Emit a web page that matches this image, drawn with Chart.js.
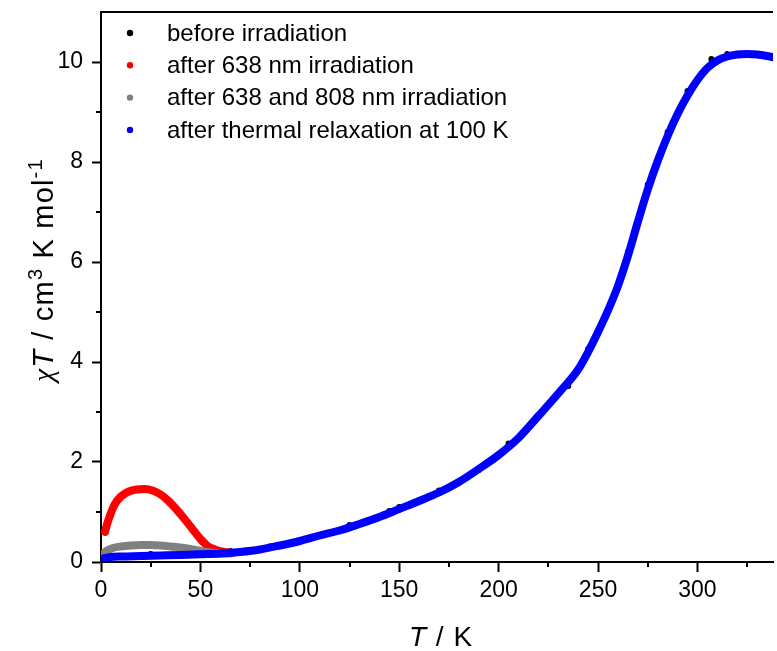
<!DOCTYPE html>
<html>
<head>
<meta charset="utf-8">
<script src="https://cdn.jsdelivr.net/npm/chart.js@4"></script>
<style>
  html, body { margin: 0; padding: 0; background: #ffffff; }
  canvas { display: block; }
</style>
</head>
<body>
<canvas id="myChart" width="777" height="651"></canvas>
<script>

// series names and colours, in legend order
const seriesLabels = [
    'before irradiation',
    'after 638 nm irradiation',
    'after 638 and 808 nm irradiation',
    'after thermal relaxation at 100 K'
];
const seriesColors = ['rgb(0, 0, 0)', 'rgb(255, 0, 0)', 'rgb(128, 128, 128)', 'rgb(0, 0, 255)'];

// before irradiation (sparse black points, mostly hidden under the blue curve)
const tempBefore = [5, 25, 45, 65, 85, 105, 125, 145, 150, 170, 190, 205, 225, 235, 245, 255, 265, 275, 285, 295, 307, 315, 325, 335];
const chiTBefore = [0.13, 0.16, 0.18, 0.22, 0.31, 0.46, 0.74, 1.02, 1.1, 1.43, 1.84, 2.37, 3.14, 3.52, 4.26, 5.05, 6.2, 7.55, 8.6, 9.42, 10.06, 10.16, 10.17, 10.11];

// after 638 nm irradiation
const tempRed = [2, 3, 5, 7, 10, 14, 18, 22, 26, 30, 34, 38, 42, 44, 46, 50, 52, 54, 58, 62, 66];
const chiTRed = [0.6, 0.75, 0.98, 1.16, 1.31, 1.41, 1.45, 1.46, 1.43, 1.35, 1.22, 1.05, 0.86, 0.76, 0.66, 0.46, 0.38, 0.31, 0.24, 0.2, 0.18];

// after 638 and 808 nm irradiation
const tempGray = [1, 3, 6, 10, 15, 20, 25, 30, 35, 40, 45, 50, 55, 60, 65];
const chiTGray = [0.16, 0.23, 0.28, 0.31, 0.33, 0.34, 0.34, 0.33, 0.31, 0.29, 0.26, 0.22, 0.19, 0.17, 0.17];

// after thermal relaxation at 100 K
const tempBlue = [1.8, 5, 10, 20, 30, 40, 50, 60, 70, 80, 90, 100, 110, 120, 130, 140, 150, 160, 170, 180, 190, 200, 210, 220, 230, 240, 245, 250, 255, 260, 265, 270, 275, 280, 285, 290, 295, 300, 305, 310, 315, 320, 325, 330, 335, 340];
const chiTBlue = [0.08, 0.1, 0.11, 0.12, 0.13, 0.14, 0.155, 0.17, 0.2, 0.25, 0.33, 0.42, 0.53, 0.63, 0.76, 0.9, 1.06, 1.22, 1.39, 1.6, 1.86, 2.14, 2.48, 2.92, 3.37, 3.85, 4.2, 4.6, 5.03, 5.52, 6.12, 6.8, 7.45, 8.02, 8.52, 8.96, 9.33, 9.64, 9.88, 10.03, 10.11, 10.15, 10.16, 10.15, 10.12, 10.08];

// axis ticks
const xTicks = [0, 50, 100, 150, 200, 250, 300];
const xMinorTicks = [25, 75, 125, 175, 225, 275, 325];
const yTicks = [0, 2, 4, 6, 8, 10];
const yMinorTicks = [1, 3, 5, 7, 9];

const fontFamily = '"Liberation Sans", Arial, sans-serif';

function points(xs, ys) {
    return xs.map((x, i) => ({x: x, y: ys[i]}));
}

function lineSet(idx, xs, ys, order) {
    return {
        label: seriesLabels[idx],
        data: points(xs, ys),
        borderColor: seriesColors[idx],
        backgroundColor: seriesColors[idx],
        borderWidth: 8,
        borderCapStyle: 'round',
        borderJoinStyle: 'round',
        pointRadius: 0,
        cubicInterpolationMode: 'monotone',
        order: order
    }
}

// draws several text pieces with different fonts on one baseline, centred on x
function drawRich(ctx, parts, x, y) {
    let total = 0;
    parts.forEach(p => {
        ctx.font = p.font;
        total += ctx.measureText(p.text).width;
    });
    let cx = x - total / 2;
    parts.forEach(p => {
        ctx.font = p.font;
        ctx.fillText(p.text, cx, y - (p.rise || 0));
        cx += ctx.measureText(p.text).width;
    });
}

const decor = {
    id: 'decor',
    afterDraw(chart) {
        const {ctx, chartArea, scales} = chart;
        ctx.save();
        ctx.strokeStyle = '#000';
        ctx.fillStyle = '#000';
        ctx.lineWidth = 2;

        // top frame line
        ctx.beginPath();
        ctx.moveTo(chartArea.left - 1, chartArea.top);
        ctx.lineTo(chartArea.right, chartArea.top);
        ctx.stroke();

        // minor ticks
        ctx.beginPath();
        xMinorTicks.forEach(v => {
            const px = Math.round(scales.x.getPixelForValue(v));
            ctx.moveTo(px, chartArea.bottom);
            ctx.lineTo(px, chartArea.bottom + 5);
        });
        yMinorTicks.forEach(v => {
            const py = Math.round(scales.y.getPixelForValue(v));
            ctx.moveTo(chartArea.left, py);
            ctx.lineTo(chartArea.left - 5, py);
        });
        ctx.stroke();

        // legend inside the plot, top left
        ctx.textBaseline = 'middle';
        ctx.textAlign = 'left';
        chart.data.datasets.forEach((ds, i) => {
            const y = chartArea.top + 21 + i * 32.3;
            ctx.fillStyle = ds.backgroundColor;
            ctx.beginPath();
            ctx.arc(chartArea.left + 29, y, 3.2, 0, Math.PI * 2);
            ctx.fill();
            ctx.fillStyle = '#000';
            ctx.font = '24px ' + fontFamily;
            ctx.fillText(ds.label, chartArea.left + 66, y + 1);
        });

        // axis titles
        ctx.textBaseline = 'alphabetic';
        const big = '28px ' + fontFamily;
        const ital = 'italic 28px ' + fontFamily;
        const small = '20px ' + fontFamily;
        ctx.letterSpacing = '1px';
        drawRich(ctx, [
            {text: 'T', font: ital},
            {text: ' / K', font: big}
        ], (chartArea.left + chartArea.right) / 2 + 4, 646);

        const bigY = '29px ' + fontFamily;
        const italY = 'italic 29px ' + fontFamily;
        ctx.letterSpacing = '1.2px';
        ctx.translate(53, (chartArea.top + chartArea.bottom) / 2 - 17);
        ctx.rotate(-Math.PI / 2);
        drawRich(ctx, [
            {text: '\u03C7', font: 'italic 29px "Liberation Serif", serif'},
            {text: 'T', font: italY},
            {text: ' / cm', font: bigY},
            {text: '3', font: small, rise: 11},
            {text: ' K mol', font: bigY},
            {text: '-1', font: small, rise: 11}
        ], 0, 0);
        ctx.restore();
    }
};

function createChart() {
    const ctx = document.getElementById('myChart');

    const data = {
        datasets: [
            {
                label: seriesLabels[0],
                data: points(tempBefore, chiTBefore),
                showLine: false,
                pointRadius: 3,
                pointBorderWidth: 0,
                pointBackgroundColor: seriesColors[0],
                borderColor: seriesColors[0],
                backgroundColor: seriesColors[0],
                order: 3
            },
            lineSet(1, tempRed, chiTRed, 2),
            lineSet(2, tempGray, chiTGray, 1),
            lineSet(3, tempBlue, chiTBlue, 0)
        ]
    };

    const tickFont = {family: fontFamily, size: 23};

    const config = {
        type: 'line',
        data: data,
        options: {
            responsive: false,
            animation: false,
            events: [],
            layout: {
                padding: {top: 12, left: 0, right: 0, bottom: 0}
            },
            plugins: {
                legend: {display: false},
                tooltip: {enabled: false}
            },
            scales: {
                x: {
                    type: 'linear',
                    min: 0,
                    max: 338,
                    afterBuildTicks: s => { s.ticks = xTicks.map(v => ({value: v})) },
                    afterFit: s => {
                        s.height = 89;
                        s.paddingLeft = 0;
                        s.paddingRight = 0;
                    },
                    grid: {
                        drawOnChartArea: false,
                        drawTicks: true,
                        tickLength: 10,
                        tickWidth: 2,
                        tickColor: '#000'
                    },
                    border: {display: true, color: '#000', width: 2},
                    ticks: {
                        color: '#000',
                        font: tickFont,
                        padding: 5,
                        maxRotation: 0,
                        autoSkip: false
                    }
                },
                y: {
                    type: 'linear',
                    min: 0,
                    max: 11,
                    afterBuildTicks: s => { s.ticks = yTicks.map(v => ({value: v})) },
                    afterFit: s => {
                        s.width = 101;
                        s.paddingTop = 0;
                        s.paddingBottom = 0;
                    },
                    grid: {
                        drawOnChartArea: false,
                        drawTicks: true,
                        tickLength: 9,
                        tickWidth: 2,
                        tickColor: '#000'
                    },
                    border: {display: true, color: '#000', width: 2},
                    ticks: {
                        color: '#000',
                        font: tickFont,
                        padding: 9
                    }
                }
            }
        },
        plugins: [decor]
    };

    return new Chart(ctx, config);
}

const chart = createChart();
</script>
</body>
</html>
